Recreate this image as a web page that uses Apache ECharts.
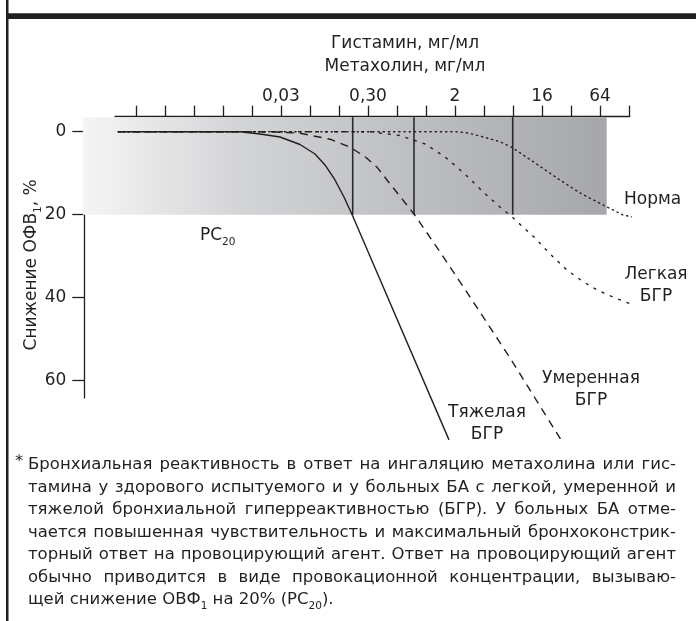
<!DOCTYPE html>
<html><head><meta charset="utf-8">
<script src="https://cdn.jsdelivr.net/npm/echarts@6/dist/echarts.min.js"></script>
<style>html,body{margin:0;padding:0;background:#fff}#c{width:696px;height:621px}</style>
</head><body><div id="c"></div>
<script>
// x = concentration in doubling steps (tick index), y = fall of FEV1, %
const xTickSteps = [0,1,2,3,4,5,6,7,8,9,10,11,12,13,14,15,16,17];
const xLabelSteps = [5, 8, 11, 14, 16];
const xLabelTexts = ['0,03', '0,30', '2', '16', '64'];
const yTicks = [0, 20, 40, 60];

const severeX   = [-0.62, 3.586, 4.276, 4.966, 5.655, 6.172, 6.517, 6.862, 7.172, 7.472, 10.793];
const severeY   = [0, 0, 0.55, 1.28, 3.08, 5.37, 8.02, 11.64, 15.74, 20.31, 74.3];
const moderateX = [-0.62, 4.621, 5.655, 6.69, 7.379, 7.897, 8.31, 8.655, 9.586, 10.483, 11.517, 12.897, 14.655];
const moderateY = [0, 0, 0.36, 1.81, 3.73, 6.0, 8.55, 11.64, 19.83, 28.99, 39.83, 54.53, 74.29];
const mildX     = [-0.62, 8.07, 9.10, 9.97, 10.66, 11.34, 11.97, 12.55, 12.97, 13.34, 13.69, 14.28, 14.86, 15.38, 15.90, 16.52, 17.14, 17.79, 18.48];
const mildY     = [0, 0, 0.92, 2.96, 6.10, 10.19, 14.53, 18.14, 20.55, 22.96, 25.13, 29.47, 33.35, 35.98, 38.17, 40.07, 41.76, 42.72, 42.96];
const normX     = [-0.62, 11.0, 11.45, 11.86, 12.55, 12.97, 13.76, 14.62, 15.31, 16.24, 16.79, 17.62, 18.52];
const normY     = [0, 0, 0.31, 1.04, 2.41, 3.81, 7.54, 11.64, 14.77, 18.14, 20.07, 21.28, 22.48];

const pc20Steps = [7.472, 9.586, 12.99];
const pc20Level = 20;
const bandX = [-1.83, 16.23];
const bandY = [-3.5, 20];

const captionLines = [
  'Бронхиальная реактивность в ответ на ингаляцию метахолина или гис-',
  'тамина у здорового испытуемого и у больных БА с легкой, умеренной и',
  'тяжелой бронхиальной гиперреактивностью (БГР). У больных БА отме-',
  'чается повышенная чувствительность и максимальный бронхоконстрик-',
  'торный ответ на провоцирующий агент. Ответ на провоцирующий агент',
  'обычно приводится в виде провокационной концентрации, вызываю-'
];
const captionLast = 'щей снижение ОВФ{s|1} на 20% (PC{s|20}).';

const INK = '#231f20';
const FF = "'DejaVu Sans', sans-serif";
const FS = 17;
const CFS = 16.5;

function zip(a, b) { return a.map((v, i) => [v, b[i]]); }

const chart = echarts.init(document.getElementById('c'), null, {renderer: 'canvas'});

// caption layout (justified lines)
const cap = [];
const ctx = document.createElement('canvas').getContext('2d');
ctx.font = CFS + 'px ' + FF;
const capLeft = 28, capRight = 676, capTop = 465, capStep = 22.5;
cap.push({type: 'text', x: 15, y: capTop - 3, style: {text: '*', font: CFS + 'px ' + FF, fill: INK, textVerticalAlign: 'middle'}});
captionLines.forEach((line, i) => {
  const words = line.split(/\s+/);
  const widths = words.map(w => ctx.measureText(w).width);
  const total = widths.reduce((a, b) => a + b, 0);
  const gap = (capRight - capLeft - total) / (words.length - 1);
  let x = capLeft;
  words.forEach((w, j) => {
    cap.push({type: 'text', x: x, y: capTop + i * capStep,
      style: {text: w, font: CFS + 'px ' + FF, fill: INK, textVerticalAlign: 'middle'}});
    x += widths[j] + gap;
  });
});
function subRich(fs) {
  return {
    t: {fontSize: fs, fontFamily: FF, color: INK, lineHeight: 24},
    s: {fontSize: 10.5, fontFamily: FF, color: INK, lineHeight: 12, verticalAlign: 'bottom'}
  };
}
cap.push({type: 'text', x: capLeft, y: capTop + 6 * capStep,
  style: {text: '{t|' + captionLast.replace(/\{s\|(\d+)\}/g, '}{s|$1}{t|') + '}', rich: subRich(CFS), fill: INK, textVerticalAlign: 'middle'}});

function txt(x, y, text, align) {
  return {type: 'text', x: x, y: y, style: {text: text, font: FS + 'px ' + FF, fill: INK, textAlign: align || 'center', textVerticalAlign: 'middle', lineHeight: 22}};
}

const lineBase = {type: 'line', showSymbol: false, symbol: 'none', smooth: false, clip: false, z: 5, silent: true};

chart.setOption({
  animation: false,
  backgroundColor: '#fff',
  grid: {left: 115, right: 66.3, top: 131.7, bottom: 223},
  xAxis: {
    type: 'value', position: 'top', offset: 15, min: -0.724, max: 17.024,
    axisLine: {show: true, onZero: false, lineStyle: {color: INK, width: 1.3}},
    axisTick: {show: true, customValues: xTickSteps, length: 11, lineStyle: {color: INK, width: 1.3}},
    axisLabel: {customValues: xLabelSteps, formatter: v => xLabelTexts[xLabelSteps.indexOf(v)] || '',
      margin: 12, fontSize: FS, fontFamily: FF, color: INK},
    splitLine: {show: false}
  },
  yAxis: {
    type: 'value', inverse: true, min: 0, max: 64.2, offset: 30.7,
    axisLine: {show: true, onZero: false, lineStyle: {color: INK, width: 1.3}},
    axisTick: {show: true, customValues: yTicks, length: 12, lineStyle: {color: INK, width: 1.3}},
    axisLabel: {customValues: yTicks, margin: 18, fontSize: FS, fontFamily: FF, color: INK},
    splitLine: {show: false},
    name: '{t|Снижение ОФВ}{s|1}{t|, %}', nameLocation: 'middle', nameGap: 41, nameRotate: 90,
    nameMoveOverlap: false,
    nameTextStyle: {rich: subRich(FS)}
  },
  series: [
    {
      type: 'custom', coordinateSystem: 'cartesian2d', z: 1, silent: true,
      encode: {x: [0, 1], y: [2, 3]},
      data: [[bandX[0], bandX[1], bandY[0], bandY[1]]],
      renderItem: function (params, api) {
        const p0 = api.coord([api.value(0), api.value(2)]);
        const p1 = api.coord([api.value(1), api.value(3)]);
        return {type: 'rect', shape: {x: p0[0], y: p0[1], width: p1[0] - p0[0], height: p1[1] - p0[1]},
          style: {fill: new echarts.graphic.LinearGradient(0, 0, 1, 0, [
            {offset: 0, color: '#f5f5f5'}, {offset: 0.3, color: '#d3d4d6'}, {offset: 1, color: '#a5a7aa'}])}};
      }
    },
    {
      type: 'custom', coordinateSystem: 'cartesian2d', z: 3, silent: true,
      encode: {x: 0, y: [1, 2]},
      data: pc20Steps.map(x => [x, bandY[0], pc20Level]),
      renderItem: function (params, api) {
        const a = api.coord([api.value(0), api.value(1)]);
        const b = api.coord([api.value(0), api.value(2)]);
        return {type: 'line', shape: {x1: a[0], y1: a[1], x2: b[0], y2: b[1]}, style: {stroke: '#2a2a2a', lineWidth: 1.6}};
      }
    },
    Object.assign({}, lineBase, {name: 'Норма', data: zip(normX, normY), lineStyle: {color: INK, width: 1.4, type: [1.2, 4], cap: 'round'}}),
    Object.assign({}, lineBase, {name: 'Легкая БГР', data: zip(mildX, mildY), lineStyle: {color: INK, width: 1.4, type: [3, 6]}}),
    Object.assign({}, lineBase, {name: 'Умеренная БГР', data: zip(moderateX, moderateY), lineStyle: {color: INK, width: 1.4, type: [8, 6]}}),
    Object.assign({}, lineBase, {name: 'Тяжелая БГР', data: zip(severeX, severeY), lineStyle: {color: INK, width: 1.4, type: 'solid'}})
  ],
  graphic: [
    {type: 'rect', shape: {x: 6, y: 0, width: 2.5, height: 621}, style: {fill: INK}},
    {type: 'rect', shape: {x: 6, y: 13.3, width: 690, height: 5.7}, style: {fill: INK}},
    txt(405, 44, 'Гистамин, мг/мл'),
    txt(405, 67, 'Метахолин, мг/мл'),
    txt(624, 200, 'Норма', 'left'),
    txt(656, 286, 'Легкая\nБГР'),
    txt(591, 390, 'Умеренная\nБГР'),
    txt(487, 424, 'Тяжелая\nБГР'),
    {type: 'text', x: 200, y: 236, style: {text: '{t|PC}{s|20}', rich: subRich(FS), fill: INK, textVerticalAlign: 'middle'}}
  ].concat(cap)
});
</script></body></html>
